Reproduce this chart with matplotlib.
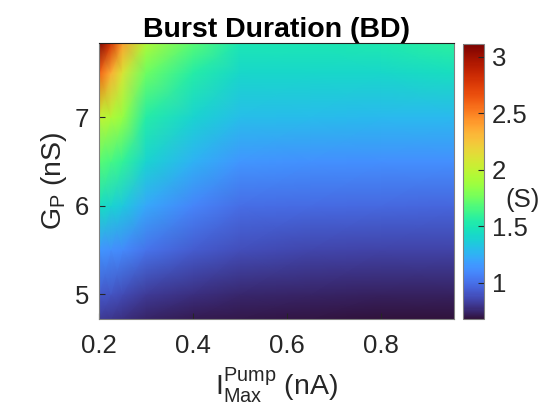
import matplotlib
matplotlib.use("Agg")
import matplotlib.pyplot as plt
import numpy as np

plt.rcParams['font.family'] = ['Liberation Sans', 'DejaVu Sans']
plt.rcParams['mathtext.fontset'] = 'custom'
plt.rcParams['mathtext.rm'] = 'Liberation Sans'

# grid of burst duration values (s)
x_vals = [0.2, 0.225, 0.25, 0.3, 0.4, 0.5, 0.65, 0.8, 0.955]
y_vals = [4.72, 5.0, 5.5, 6.0, 6.5, 7.0, 7.5, 7.84]
bd = [
    [0.82, 0.80, 0.78, 0.74, 0.71, 0.70, 0.69, 0.68, 0.68],   # 4.72
    [0.92, 0.90, 0.87, 0.82, 0.78, 0.75, 0.74, 0.73, 0.73],   # 5.0
    [1.15, 1.12, 1.10, 1.02, 0.93, 0.88, 0.86, 0.85, 0.85],   # 5.5
    [1.45, 1.40, 1.35, 1.22, 1.08, 1.00, 0.99, 0.98, 0.97],   # 6.0
    [1.70, 1.65, 1.60, 1.40, 1.25, 1.15, 1.13, 1.12, 1.12],   # 6.5
    [2.00, 1.95, 1.85, 1.55, 1.40, 1.30, 1.29, 1.28, 1.28],   # 7.0
    [2.60, 2.35, 2.10, 1.75, 1.55, 1.42, 1.42, 1.42, 1.45],   # 7.5
    [3.10, 2.80, 2.40, 1.95, 1.70, 1.50, 1.50, 1.52, 1.58],   # 7.84
]
x_ticks = [0.2, 0.4, 0.6, 0.8]
y_ticks = [5, 6, 7]
c_ticks = [1, 1.5, 2, 2.5, 3]
c_min, c_max = 0.68, 3.11

fig = plt.figure(figsize=(5.6, 4.2), dpi=100, facecolor='white')
ax = fig.add_axes([0.177, 0.240, 0.634, 0.658])
cax = fig.add_axes([0.827, 0.240, 0.037, 0.655])

X, Y = np.meshgrid(x_vals, y_vals)
mesh = ax.pcolormesh(X, Y, np.array(bd), cmap='turbo', shading='gouraud',
                     vmin=c_min, vmax=c_max)
ax.set_xlim(x_vals[0], x_vals[-1])
ax.set_ylim(y_vals[0], y_vals[-1])
ax.set_xticks(x_ticks)
ax.set_xticklabels([str(t) for t in x_ticks])
ax.set_yticks(y_ticks)
ax.tick_params(direction='in', length=4, labelsize=18.5, colors='#262626', pad=7)
ax.tick_params(axis='x', pad=11)
for s in ax.spines.values():
    s.set_color('#808080')
ax.spines['top'].set_color('#202020')

ax.set_title('Burst Duration (BD)', fontsize=20.5, fontweight='bold', pad=3)
ax.set_xlabel(r'$\mathregular{I_{Max}^{Pump}}$ (nA)', fontsize=20.5, color='#262626', labelpad=5)
ax.set_ylabel(r'$\mathregular{G_P}$ (nS)', fontsize=20.5, color='#262626', labelpad=4)

cb = fig.colorbar(mesh, cax=cax, ticks=c_ticks)
cb.ax.set_yticklabels(['1', '1.5', '2', '2.5', '3'])
cb.ax.tick_params(direction='in', length=4, labelsize=18.5, colors='#262626', pad=6)
cb.outline.set_edgecolor('#808080')
cax.text(2.85, 0.435, '(S)', transform=cax.transAxes, fontsize=18.5,
         color='#262626', ha='center', va='center')

fig.savefig('out.png', dpi=100)
